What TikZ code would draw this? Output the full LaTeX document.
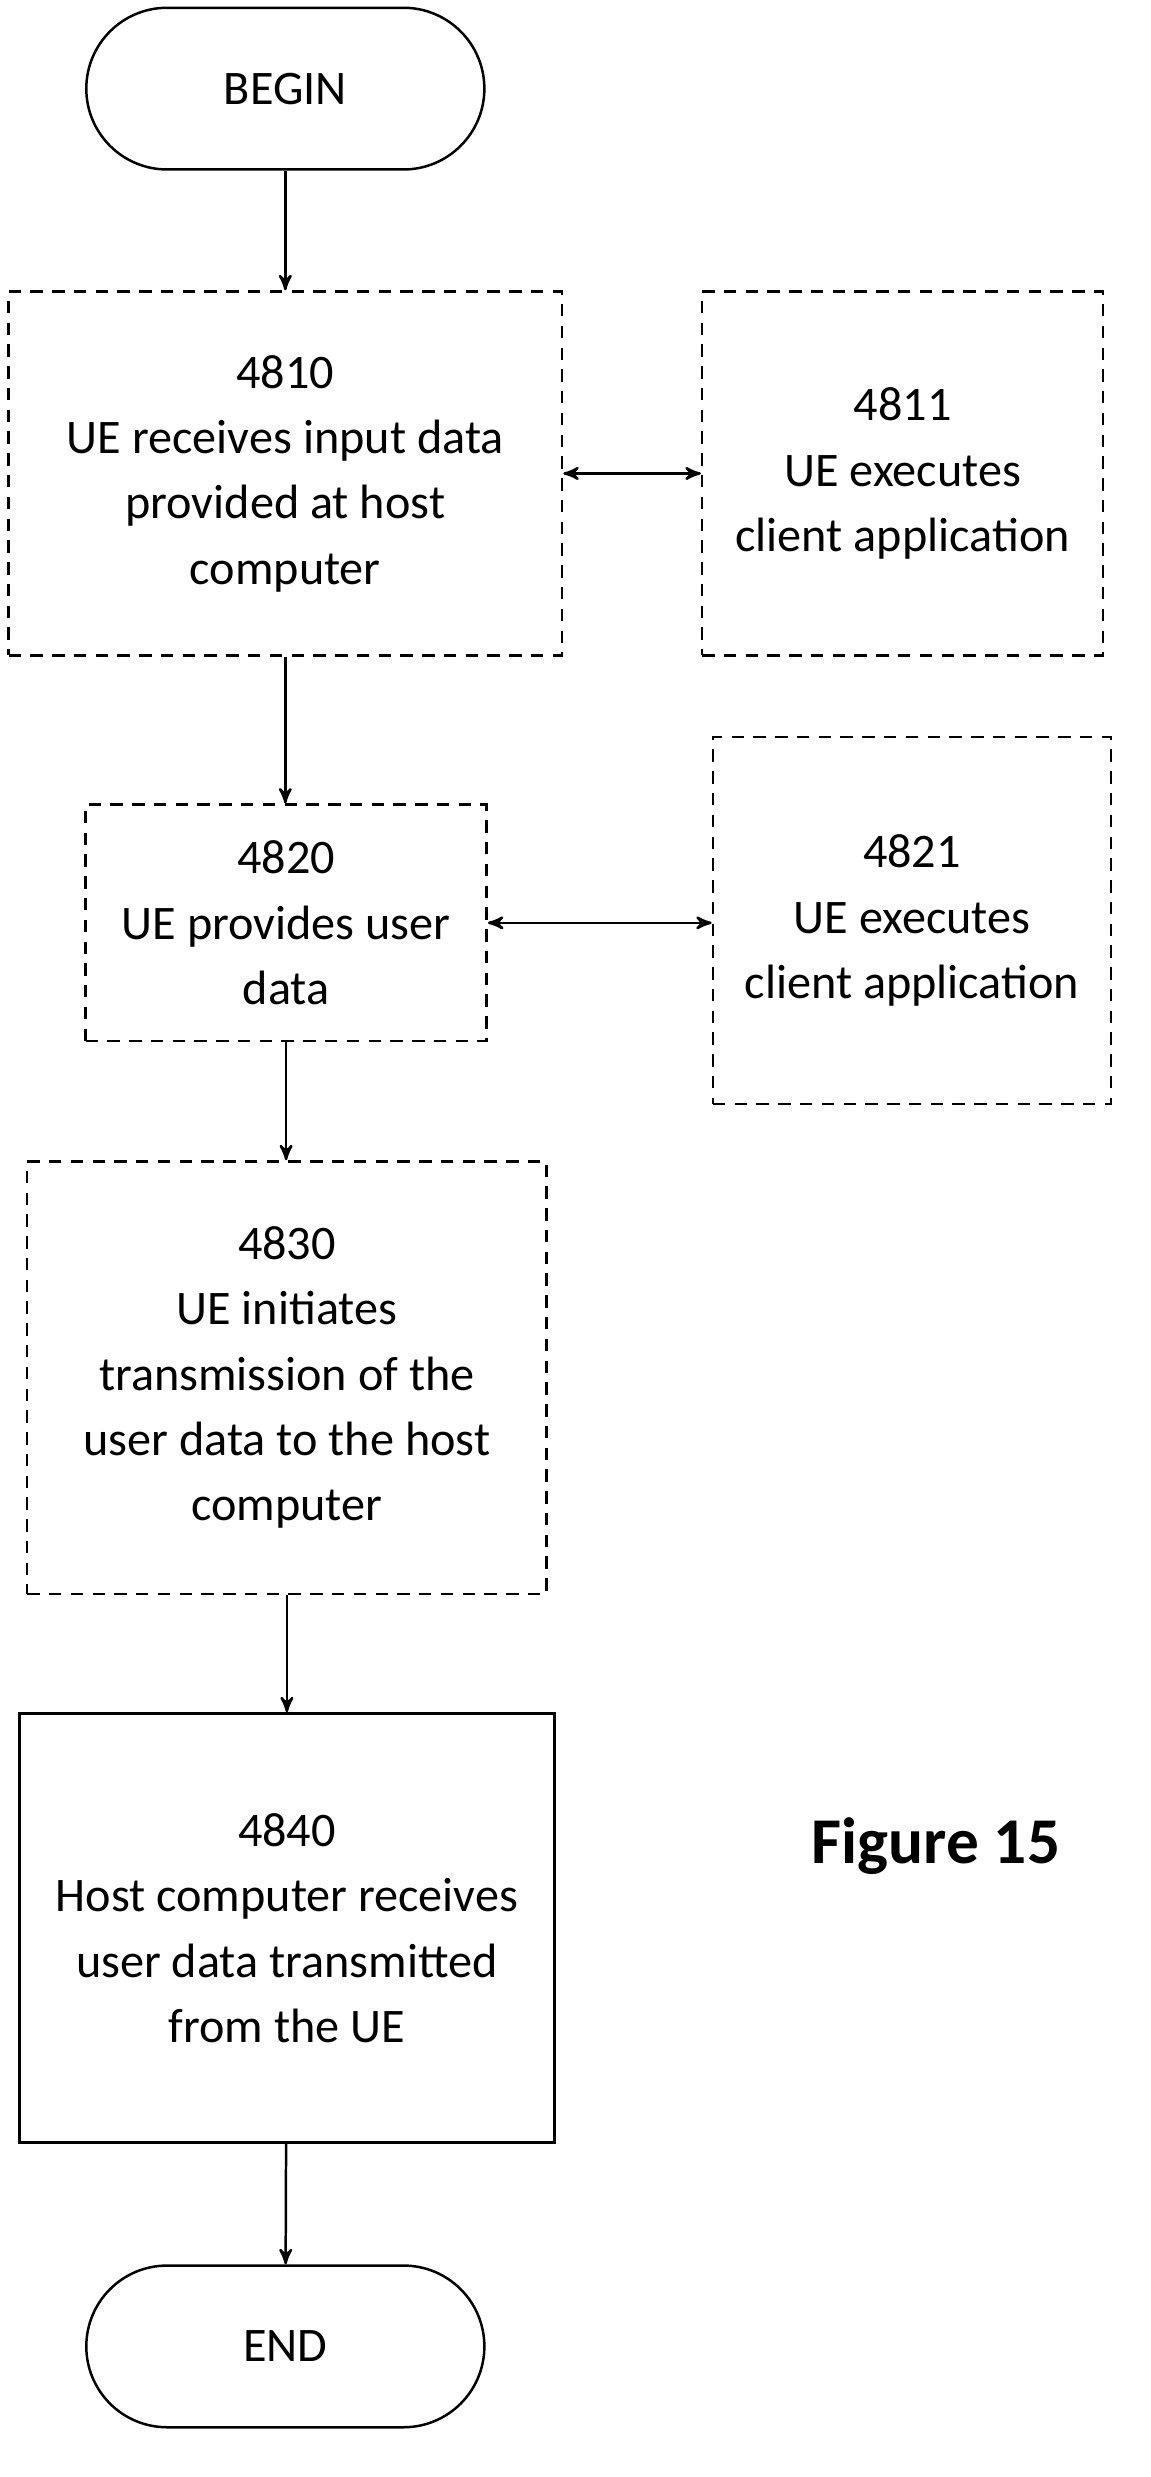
\documentclass[tikz,border=0pt]{standalone}
\usepackage{fontspec}
\setmainfont{Carlito}
\usetikzlibrary{arrows,positioning}
\begin{document}
\begin{tikzpicture}[x=0.5pt, y=-0.5pt, >=stealth', thick, font=\fontsize{15.5}{21}\selectfont]

    \tikzstyle{term} = [rectangle, rounded corners=26pt, draw=black, text centered, minimum width=128pt, minimum height=52pt]
    \tikzstyle{dashbox} = [rectangle, draw=black, dash pattern=on 4pt off 3pt, align=center, inner sep=2pt]
    \tikzstyle{solidbox} = [rectangle, draw=black, align=center, inner sep=2pt]

    \useasboundingbox (0,0) rectangle (740,1593);

    \node (begin) [term]  at (183.5,57)     {BEGIN};
    \node (s4810) [dashbox, minimum width=178pt, minimum height=117pt] at (183.5,304.5) {4810\\UE receives input data\\provided at host\\computer};
    \node (s4811) [dashbox, minimum width=129pt, minimum height=117pt] at (580.5,304.5) {4811\\UE executes\\client application};
    \node (s4820) [dashbox, minimum width=129pt, minimum height=76pt] at (184,593.5) {4820\\UE provides user\\data};
    \node (s4821) [dashbox, minimum width=128pt, minimum height=118pt] at (586.5,592) {4821\\UE executes\\client application};
    \node (s4830) [dashbox, minimum width=167pt, minimum height=139pt] at (184.5,886) {4830\\UE initiates\\transmission of the\\user data to the host\\computer};
    \node (s4840) [solidbox, minimum width=172pt, minimum height=138pt] at (184.5,1240) {4840\\Host computer receives\\user data transmitted\\from the UE};
    \node (end)   [term]  at (183.5,1509)   {END};

    \node (fig) at (602,1187) {\fontsize{21}{24}\selectfont\bfseries Figure 15};

    \draw[->] (begin) -- (s4810);
    \draw[->] (s4810) -- (s4820.north -| s4810);
    \draw[<->] (s4810) -- (s4811);
    \draw[<->] (s4820) -- (s4821.west |- s4820);
    \draw[->] (s4820) -- (s4830.north -| s4820);
    \draw[->] (s4830) -- (s4840);
    \draw[->] (s4840) -- (end);
\end{tikzpicture}
\end{document}
